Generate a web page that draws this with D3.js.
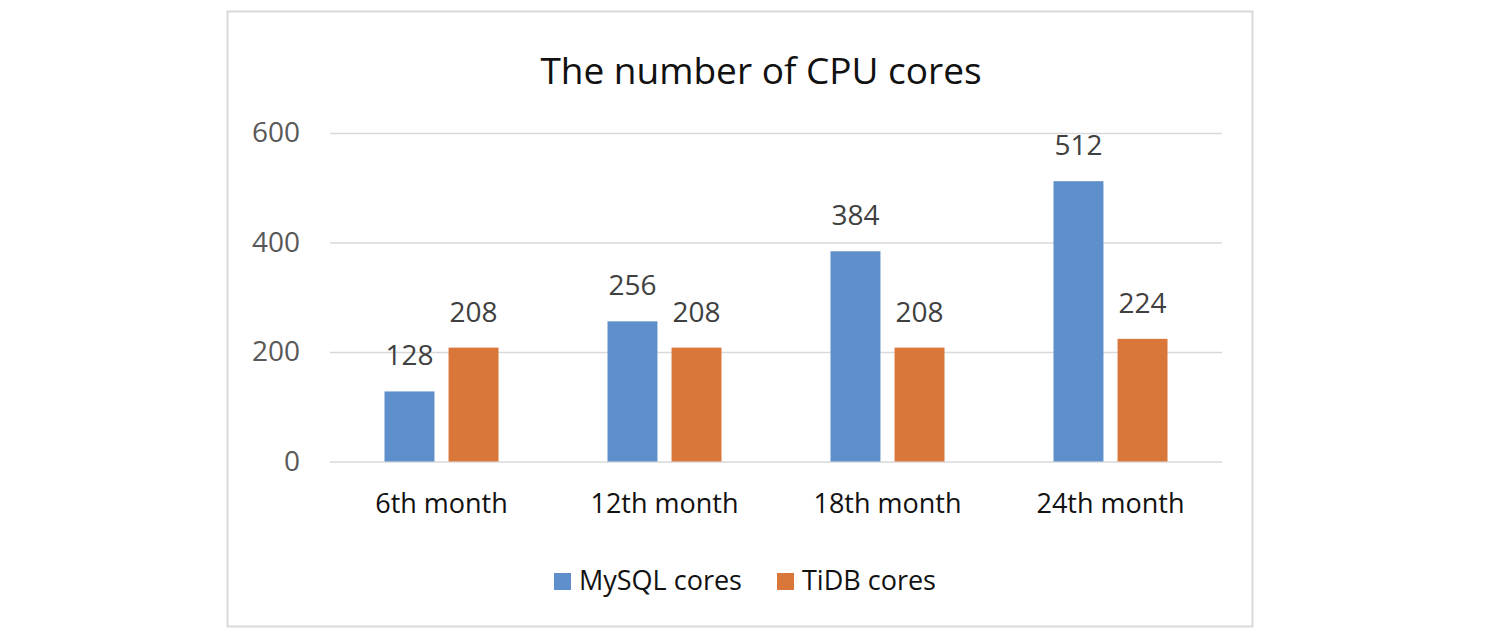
<!DOCTYPE html>
<html>
<head>
<meta charset="utf-8">
<script src="https://cdn.jsdelivr.net/npm/d3@7"></script>
<style>
  body { margin: 0; background: #fff; }
  svg { display: block; font-family: "Open Sans", "Noto Sans", sans-serif; }
</style>
</head>
<body>
<svg id="chart" width="1493" height="642"></svg>
<script>
// data
var categories = ["6th month", "12th month", "18th month", "24th month"];
var seriesNames = ["MySQL cores", "TiDB cores"];
var mysqlCores = [128, 256, 384, 512];
var tidbCores = [208, 208, 208, 224];
var yTicks = [0, 200, 400, 600];
var colors = ["#5f8fca", "#d9763a"];

var svg = d3.select("#chart");

// outer frame
svg.append("rect")
    .attr("x", 227.5).attr("y", 11.5)
    .attr("width", 1025).attr("height", 615)
    .attr("fill", "#fff")
    .attr("stroke", "#d9d9d9")
    .attr("stroke-width", 2);

svg.append("text")
    .attr("x", 761).attr("y", 84)
    .attr("text-anchor", "middle")
    .attr("font-size", "37px")
    .attr("fill", "#111")
    .text("The number of CPU cores");

var plot = {left: 330, right: 1222, top: 133, bottom: 461.5};

var x = d3.scaleBand()
    .domain(categories)
    .range([plot.left, plot.right]);
var xs = d3.scaleBand()
    .domain(seriesNames)
    .range([x.bandwidth() / 2 - 57, x.bandwidth() / 2 + 57])
    .paddingInner(0.22);
var y = d3.scaleLinear()
    .domain([0, 600])
    .range([plot.bottom, plot.top]);

// gridlines
var yAxis = d3.axisLeft(y)
    .tickValues(yTicks)
    .tickSize(-(plot.right - plot.left))
    .tickPadding(30);
var gy = svg.append("g")
    .attr("transform", "translate(" + plot.left + ",0)")
    .call(yAxis);
gy.select(".domain").remove();
gy.selectAll(".tick line").attr("stroke", "#d9d9d9").attr("stroke-width", 1.5);
gy.selectAll(".tick text")
    .attr("font-size", "28px")
    .attr("fill", "#595959")
    .attr("font-family", "\"Open Sans\", sans-serif");

// category axis labels
var xAxis = d3.axisBottom(x).tickSize(0).tickPadding(32);
var gx = svg.append("g")
    .attr("transform", "translate(0," + plot.bottom + ")")
    .call(xAxis);
gx.select(".domain").remove();
gx.selectAll(".tick text")
    .attr("font-size", "27px")
    .attr("fill", "#111")
    .attr("font-family", "\"Open Sans\", sans-serif");

var rows = categories.map(function(c, i) {
    return {cat: c, values: [mysqlCores[i], tidbCores[i]]};
});

var groups = svg.append("g").selectAll("g")
    .data(rows)
    .enter().append("g")
    .attr("transform", function(d) { return "translate(" + x(d.cat) + ",0)"; });

groups.selectAll("rect")
    .data(function(d) { return d.values.map(function(v, j) { return {name: seriesNames[j], v: v, j: j}; }); })
    .enter().append("rect")
    .attr("x", function(d) { return xs(d.name); })
    .attr("y", function(d) { return y(d.v); })
    .attr("width", xs.bandwidth())
    .attr("height", function(d) { return y(0) - y(d.v); })
    .attr("fill", function(d) { return colors[d.j]; });

groups.selectAll("text.val")
    .data(function(d) { return d.values.map(function(v, j) { return {name: seriesNames[j], v: v}; }); })
    .enter().append("text")
    .attr("class", "val")
    .attr("x", function(d) { return xs(d.name) + xs.bandwidth() / 2; })
    .attr("y", function(d) { return y(d.v) - 26; })
    .attr("text-anchor", "middle")
    .attr("font-size", "28px")
    .attr("fill", "#404040")
    .text(function(d) { return d.v; });

// legend
var legendX = [554, 777];
var legend = svg.append("g").selectAll("g")
    .data(seriesNames)
    .enter().append("g")
    .attr("transform", function(d, i) { return "translate(" + legendX[i] + ",573)"; });
legend.append("rect")
    .attr("width", 17).attr("height", 17)
    .attr("fill", function(d, i) { return colors[i]; });
legend.append("text")
    .attr("x", 25).attr("y", 17)
    .attr("font-size", "27px")
    .attr("fill", "#111")
    .text(function(d) { return d; });
</script>
</body>
</html>
